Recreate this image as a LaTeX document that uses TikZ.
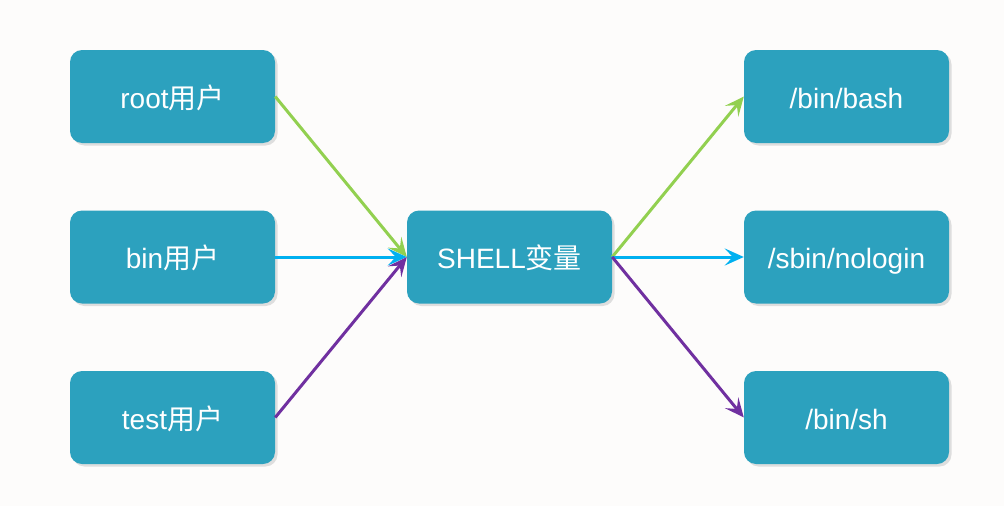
\documentclass[tikz,border=0pt]{standalone}
\usepackage{fontspec}
\setmainfont{Liberation Sans}
\newfontfamily\cjk{Noto Sans CJK SC}
\usetikzlibrary{arrows.meta,shadows}
\definecolor{bg}{HTML}{FDFCFB}
\definecolor{boxc}{HTML}{2CA1BE}
\definecolor{lgreen}{HTML}{92D050}
\definecolor{lblue}{HTML}{00B0F0}
\definecolor{lpurple}{HTML}{7030A0}
\tikzset{
  box/.style={fill=boxc, rounded corners=12pt, minimum width=205pt, minimum height=93pt,
    text=white, font=\fontsize{28}{32}\selectfont, inner sep=0pt,
    text height=24pt, text depth=1pt,
    drop shadow={shadow xshift=2.5pt, shadow yshift=-2.5pt, fill=black!13, opacity=1}},
  conn/.style={line width=3pt, -{Stealth[length=19pt,width=17pt,inset=8pt]}}
}
\begin{document}
\begin{tikzpicture}[x=1pt,y=-1pt]
\fill[bg] (0,0) rectangle (1004,506);
\useasboundingbox (0,0) rectangle (1004,506);
\node[box] (root) at (172.5,96.5) {root{\cjk 用户}};
\node[box] (bin) at (172.5,257) {bin{\cjk 用户}};
\node[box] (test) at (172.5,417.5) {test{\cjk 用户}};
\node[box] (shell) at (509.5,257) {SHELL{\cjk 变量}};
\node[box] (bash) at (846.5,96.5) {/bin/bash};
\node[box] (nologin) at (846.5,257) {/sbin/nologin};
\node[box] (sh) at (846.5,417.5) {/bin/sh};
\draw[conn, lgreen] (root.east) -- (shell.west);
\draw[conn, lblue] (bin.east) -- (shell.west);
\draw[conn, lpurple] (test.east) -- (shell.west);
\draw[conn, lgreen] (shell.east) -- (bash.west);
\draw[conn, lblue] (shell.east) -- (nologin.west);
\draw[conn, lpurple] (shell.east) -- (sh.west);
\end{tikzpicture}
\end{document}
